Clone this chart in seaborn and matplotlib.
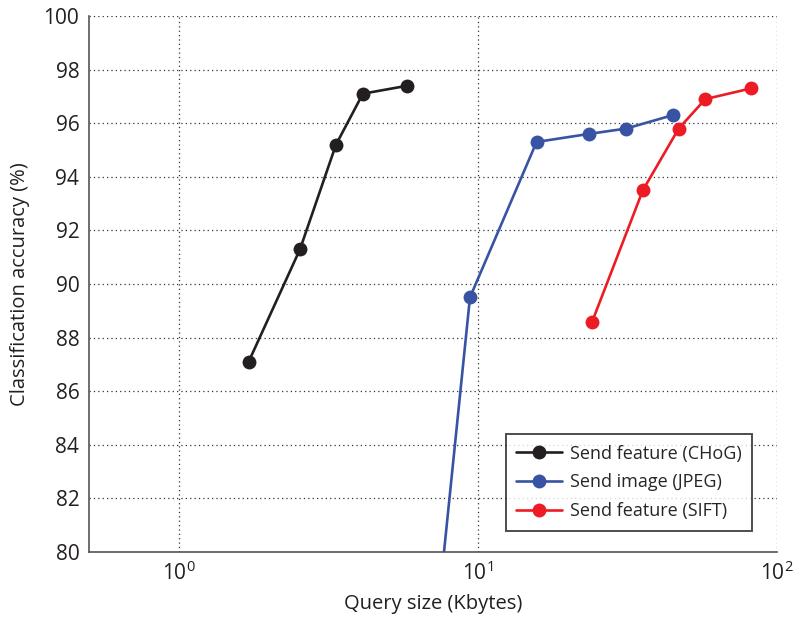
import matplotlib
matplotlib.use('Agg')
import matplotlib.pyplot as plt
import pandas as pd
import seaborn as sns

# Query size (Kbytes) vs classification accuracy (%)
chog_size = [1.71, 2.54, 3.35, 4.12, 5.81]
chog_acc = [87.1, 91.3, 95.2, 97.1, 97.4]

jpeg_size = [7.0, 9.4, 15.7, 23.5, 31.3, 44.8]
jpeg_acc = [75.5, 89.5, 95.3, 95.6, 95.8, 96.3]

sift_size = [24.1, 35.6, 46.9, 57.6, 82.0]
sift_acc = [88.6, 93.5, 95.8, 96.9, 97.3]

labels = ['Send feature (CHoG)', 'Send image (JPEG)', 'Send feature (SIFT)']
colors = ['#231f20', '#3953a4', '#ed1c24']

df = pd.concat([
    pd.DataFrame({'size': chog_size, 'acc': chog_acc, 'method': labels[0]}),
    pd.DataFrame({'size': jpeg_size, 'acc': jpeg_acc, 'method': labels[1]}),
    pd.DataFrame({'size': sift_size, 'acc': sift_acc, 'method': labels[2]}),
])

sns.set_style('white')
plt.rcParams['font.family'] = ['Open Sans', 'DejaVu Sans']
plt.rcParams['mathtext.fontset'] = 'custom'
plt.rcParams['mathtext.rm'] = 'Open Sans'

fig = plt.figure(figsize=(7.94, 6.19), dpi=100)
ax = fig.add_axes([89 / 794, 67 / 619, 688 / 794, 536 / 619])

sns.lineplot(data=df, x='size', y='acc', hue='method', palette=colors,
             marker='o', markersize=10, markeredgewidth=0, linewidth=1.9,
             sort=False, ax=ax)

ax.set_xscale('log')
ax.set_xlim(0.5, 100)
ax.set_ylim(80, 100)
ax.set_yticks(range(80, 101, 2))
ax.set_xticks([1, 10, 100])
ax.set_xticklabels([r'$10^0$', r'$10^1$', r'$10^2$'])
ax.minorticks_off()

ax.grid(True, linestyle=(0, (1, 2.5)), color='#333333', linewidth=0.9)
for side in ['top', 'right']:
    ax.spines[side].set_visible(False)
for side in ['left', 'bottom']:
    ax.spines[side].set_color('#555555')
    ax.spines[side].set_linewidth(1.2)

ax.tick_params(length=0, labelsize=15, colors='#231f20', pad=7)
ax.set_xlabel('Query size (Kbytes)', fontsize=14.5, color='#231f20', labelpad=6)
ax.set_ylabel('Classification accuracy (%)', fontsize=14.5, color='#231f20', labelpad=10)

leg = ax.legend(loc='lower right', fontsize=13, frameon=True, fancybox=False,
                edgecolor='#231f20', borderpad=0.6, handlelength=2.55,
                handletextpad=0.4, labelspacing=0.6, borderaxespad=0,
                bbox_to_anchor=(0.964, 0.039))
leg.get_frame().set_linewidth(1.4)
leg.set_title(None)

fig.savefig('out.png', dpi=100)
